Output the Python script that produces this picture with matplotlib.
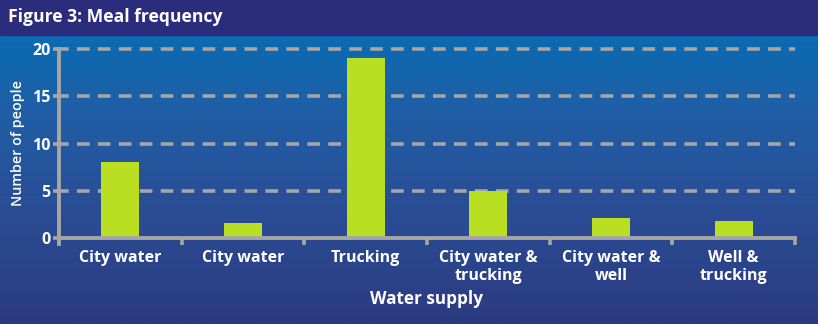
import matplotlib
matplotlib.use("Agg")
import matplotlib.pyplot as plt
import numpy as np
from matplotlib.colors import LinearSegmentedColormap
from matplotlib.patches import Rectangle

# ── Dados ──────────────────────────────────────────────────────────────────────
categorias = ["City water", "City water", "Trucking",
              "City water &\ntrucking", "City water &\nwell", "Well &\ntrucking"]
pessoas = [8, 1.6, 19, 5, 2.1, 1.8]
y_ticks = [0, 5, 10, 15, 20]

TITULO = "Figure 3: Meal frequency"
COR_BARRA = "#bade22"
COR_EIXO = "#a6a6a6"
FONTE = ["Open Sans", "DejaVu Sans"]

fig = plt.figure(figsize=(8.18, 3.24), dpi=100)

# fundo em degradê (azul claro em cima, azul-marinho embaixo)
bg = fig.add_axes([0, 0, 1, 1], zorder=-10)
grad = LinearSegmentedColormap.from_list(
    "fundo", ["#0071b9", "#1f5fa6", "#2a4c94", "#2c3a80"])
bg.imshow(np.linspace(0, 1, 256).reshape(-1, 1), aspect="auto", cmap=grad,
          extent=[0, 1, 0, 1], origin="upper")
bg.add_patch(Rectangle((0, 1 - 35 / 324), 1, 35 / 324, color="#2b2d7c"))
bg.set_xlim(0, 1)
bg.set_ylim(0, 1)
bg.axis("off")

fig.text(8 / 818, 1 - 17 / 324, TITULO, color="white", fontsize=12.6,
         fontweight="bold", family=FONTE, va="center", ha="left")

ax = fig.add_axes([59 / 818, 1 - 238 / 324, 736 / 818, 189 / 324])
ax.patch.set_alpha(0)
x = np.arange(len(categorias))
ax.bar(x, pessoas, width=0.31, color=COR_BARRA, zorder=3)

ax.set_xlim(-0.5, len(categorias) - 0.5)
ax.set_ylim(0, 20)
ax.set_yticks(y_ticks)
ax.set_yticklabels([str(v) for v in y_ticks], color="white", fontsize=11.5,
                   fontweight="bold", family=FONTE)
for v in y_ticks[1:]:
    ax.axhline(v, color=COR_EIXO, lw=2.6, ls=(0, (3.5, 2.3)), zorder=1,
               xmin=-0.004, clip_on=False)

# rótulos das categorias no centro, ticks nas divisões
ax.set_xticks(x)
ax.set_xticklabels(categorias, color="white", fontsize=11.5, fontweight="bold",
                   family=FONTE, linespacing=1.15)
ax.tick_params(axis="x", length=0, pad=9)
ax.set_xticks(np.arange(len(categorias) + 1) - 0.5, minor=True)
ax.tick_params(axis="x", which="minor", length=5, width=2.6, color=COR_EIXO)
ax.tick_params(axis="y", length=4, width=2.6, color=COR_EIXO, pad=2)

for lado in ["top", "right"]:
    ax.spines[lado].set_visible(False)
for lado in ["left", "bottom"]:
    ax.spines[lado].set_color(COR_EIXO)
    ax.spines[lado].set_linewidth(2.8)
ax.spines["left"].set_bounds(-0.6, 20)
ax.spines["left"].set_zorder(4)
ax.spines["bottom"].set_zorder(4)

ax.set_xlabel("Water supply", color="white", fontsize=12.3, fontweight="bold",
              family=FONTE, labelpad=4)
ax.set_ylabel("Number of people", color="white", fontsize=10.3,
              fontweight="semibold", family=FONTE, labelpad=5)

fig.savefig("out.png", dpi=100)
